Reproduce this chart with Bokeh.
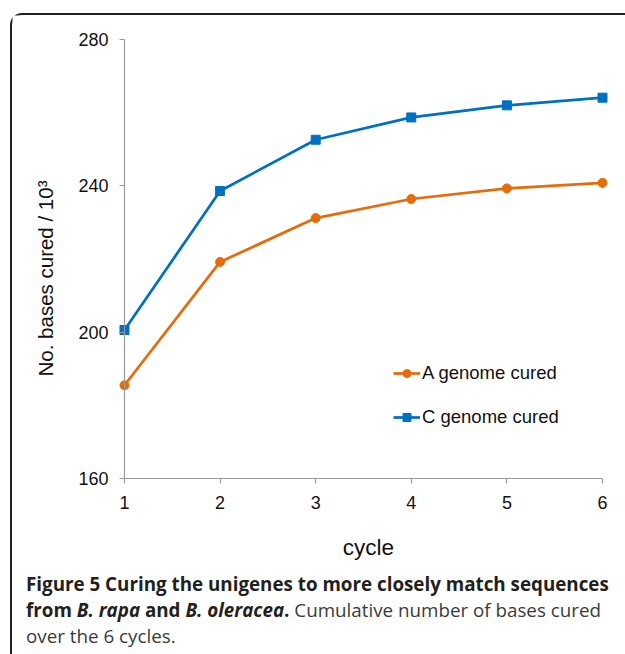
import math
from bokeh.plotting import figure
from bokeh.models import Range1d, Label, Legend, LegendItem, Div, FixedTicker
from bokeh.layouts import column
from bokeh.embed import file_html
from bokeh.resources import INLINE

# ---- data ----
cycles = [1, 2, 3, 4, 5, 6]
a_cured = [185.5, 219.2, 231.2, 236.4, 239.3, 240.8]
c_cured = [200.6, 238.6, 252.6, 258.7, 262.0, 264.1]
y_ticks = [160, 200, 240, 280]
x_ticks = [1, 2, 3, 4, 5, 6]
series_names = ["A genome cured", "C genome cured"]
y_title = "No. bases cured / 10\u00b3"
x_title = "cycle"

ORANGE = "#E46C0A"
BLUE = "#0070C0"
AXIS = "#9a9a9a"
FONT = "Liberation Sans"

# frame covers the whole canvas; axes are placed at fixed data locations
p = figure(frame_width=611, frame_height=551, min_border=0,
           x_range=Range1d(-0.1715, 6.2197), y_range=Range1d(135.95, 286.56),
           output_backend="svg", toolbar_location=None,
           background_fill_color="white", border_fill_color="white",
           outline_line_color=None)
p.grid.visible = False

la = p.line(cycles, a_cured, line_color=ORANGE, line_width=2.75)
sa = p.scatter(cycles, a_cured, marker="circle", size=9, color=ORANGE)
lc = p.line(cycles, c_cured, line_color=BLUE, line_width=2.75)
sc = p.scatter(cycles, c_cured, marker="square", size=9, color=BLUE)

for ax in (p.xaxis[0], p.yaxis[0]):
    ax.axis_line_color = AXIS
    ax.axis_line_width = 1.2
    ax.major_tick_line_color = AXIS
    ax.major_tick_line_width = 1.2
    ax.major_tick_out = 5
    ax.major_tick_in = 0
    ax.minor_tick_line_color = None
    ax.major_label_text_font = FONT
    ax.major_label_text_font_size = "18px"
    ax.major_label_text_color = "#111111"

p.xaxis[0].ticker = FixedTicker(ticks=x_ticks)
p.xaxis[0].bounds = (1, 6)
p.xaxis[0].fixed_location = 160
p.xaxis[0].major_label_standoff = 12
p.yaxis[0].ticker = FixedTicker(ticks=y_ticks)
p.yaxis[0].bounds = (160, 280)
p.yaxis[0].fixed_location = 1
p.yaxis[0].major_label_standoff = 11

legend = Legend(items=[LegendItem(label=series_names[0], renderers=[la, sa]),
                       LegendItem(label=series_names[1], renderers=[lc, sc])],
                location=(381, 138), border_line_color=None,
                background_fill_alpha=0, padding=0, margin=0, spacing=22,
                glyph_width=27, glyph_height=20, label_height=20,
                label_standoff=2, label_text_font=FONT,
                label_text_font_size="18.5px", label_text_color="#111111")
p.add_layout(legend)

p.add_layout(Label(x=0.1737, y=214.67, text=y_title, angle=math.pi / 2,
                   text_align="center", text_baseline="middle",
                   text_font=FONT, text_font_size="20.5px", text_color="#111111"))
p.add_layout(Label(x=3.552, y=141.14, text=x_title,
                   text_align="center", text_baseline="middle",
                   text_font=FONT, text_font_size="22.5px", text_color="#111111"))

caption = Div(width=611, height=84, text=(
    "<div style=\"font-family:'Open Sans'; font-size:18.8px; line-height:26px; "
    "color:#3a3a3a; padding-left:9px; white-space:nowrap;\">"
    "<b style='color:#231f20'>Figure 5 Curing the unigenes to more closely match sequences<br>"
    "from <i>B. rapa</i> and <i>B. oleracea</i>.</b> Cumulative number of bases cured<br>"
    "over the 6 cycles.</div>"),
    styles={"overflow": "hidden"})

layout = column(p, caption, margin=(13, 0, 0, 10),
                styles={"border-top": "2px solid #231f20",
                        "border-left": "2px solid #231f20",
                        "border-top-left-radius": "12px"})

open("out.html", "w").write(file_html(layout, INLINE))
